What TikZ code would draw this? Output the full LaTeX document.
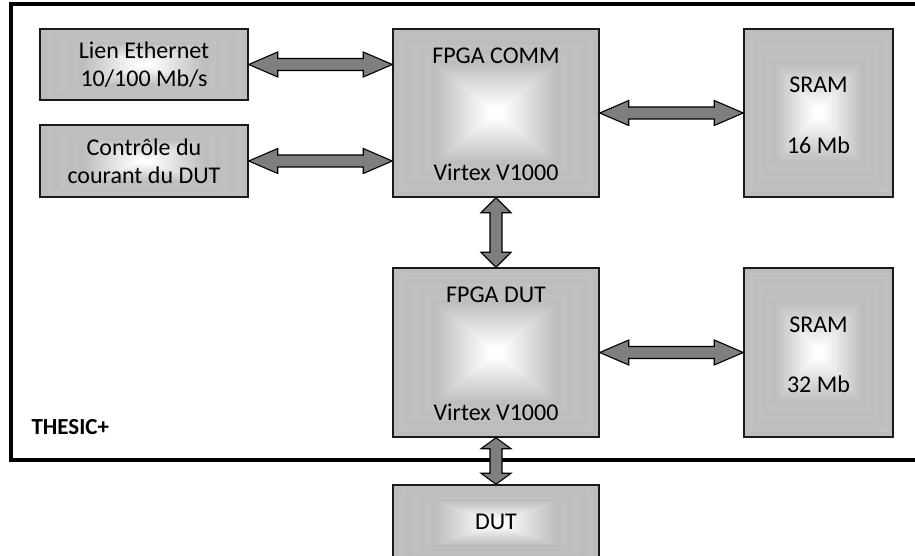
\documentclass[tikz,border=0pt]{standalone}
\usepackage{fontspec}
\setmainfont{Carlito}
\usetikzlibrary{calc}
\definecolor{arrgray}{HTML}{7F7F7F}
\definecolor{boxline}{HTML}{1A1A1A}
\tikzset{
  grad/.style={path picture={
    \foreach \k in {0,...,47}{
      \pgfmathsetmacro\v{min(0.74+0.012*mod(floor(\k/3),2)*(\k<20)+0.26*min(max(\k-19,0)/26,1),1)}
      \definecolor{tmpc}{gray}{\v}
      \fill[tmpc] ($(path picture bounding box.south west)!\k/96!(path picture bounding box.north east)$) rectangle ($(path picture bounding box.north east)!\k/96!(path picture bounding box.south west)$);
    }}},
  box/.style={draw=boxline, line width=1.5pt, grad, align=center, inner sep=0pt},
  arr/.style={draw=black, line width=1.1pt, fill=arrgray, line join=miter},
  frame/.style={draw=black, line width=3.5pt},
  txt/.style={align=center}
}
\newcommand\harr[2]{\path[arr] let \p1=(#1), \p2=(#2) in
  (\x1,\y1) -- (\x1+29pt,\y1+12.5pt) -- (\x1+29pt,\y1+6pt) -- (\x2-29pt,\y1+6pt) -- (\x2-29pt,\y1+12.5pt) -- (\x2,\y1)
  -- (\x2-29pt,\y1-12.5pt) -- (\x2-29pt,\y1-6pt) -- (\x1+29pt,\y1-6pt) -- (\x1+29pt,\y1-12.5pt) -- cycle;}
\newcommand\varr[3][14]{\path[arr] let \p1=(#2), \p2=(#3) in
  (\x1,\y1) -- (\x1+15pt,\y1-#1pt) -- (\x1+6pt,\y1-#1pt) -- (\x1+6pt,\y2+#1pt) -- (\x1+15pt,\y2+#1pt) -- (\x1,\y2)
  -- (\x1-15pt,\y2+#1pt) -- (\x1-6pt,\y2+#1pt) -- (\x1-6pt,\y1-#1pt) -- (\x1-15pt,\y1-#1pt) -- cycle;}
\begin{document}
\begin{tikzpicture}[x=1pt,y=-1pt,font=\fontsize{24}{28}\selectfont]
\useasboundingbox (0,0) rectangle (915,556);
\clip (0,0) rectangle (915,556);
\fill[white] (0,0) rectangle (915,556);
% frame
\draw[frame] (920,4) -- (11,4) -- (11,460) -- (920,460);
\node[font=\fontsize{23}{28}\selectfont\bfseries, anchor=west] (lbl) at (28,427) {THESIC+};
% boxes
\node[box, minimum width=208pt, minimum height=71pt] (eth) at (144,64.5) {Lien Ethernet\\10/100 Mb/s};
\node[box, minimum width=208pt, minimum height=72pt] (ctl) at (144,161) {Contrôle du\\courant du DUT};
\node[box, minimum width=206pt, minimum height=168pt] (comm) at (496,113) {};
\node[box, minimum width=149pt, minimum height=168pt] (sram1) at (818.5,113) {};
\node[box, minimum width=206pt, minimum height=169pt] (fdut) at (496,352.5) {};
\node[box, minimum width=149pt, minimum height=169pt] (sram2) at (818.5,352.5) {};
\node[box, minimum width=206pt, minimum height=76pt] (dut) at (496,523) {};
% texts
\node[txt] (commT) at ($(comm.north)+(0,28)$) {FPGA COMM};
\node[txt] (commV) at ($(comm.south)+(0,-25)$) {Virtex V1000};
\node[txt] (fdutT) at ($(fdut.north)+(0,28)$) {FPGA DUT};
\node[txt] (fdutV) at ($(fdut.south)+(0,-25)$) {Virtex V1000};
\node[txt] (s1a) at ($(sram1.center)+(0,-28)$) {SRAM};
\node[txt] (s1b) at ($(sram1.center)+(0,32)$) {16 Mb};
\node[txt] (s2a) at ($(sram2.center)+(0,-28)$) {SRAM};
\node[txt] (s2b) at ($(sram2.center)+(0,32)$) {32 Mb};
\node[txt] (dutT) at (496,522) {DUT};
% arrows
\harr{eth.east}{comm.west |- eth.east}
\harr{ctl.east}{comm.west |- ctl.east}
\harr{comm.east}{sram1.west}
\harr{fdut.east}{sram2.west}
\varr[15]{comm.south}{fdut.north}
\varr[11]{fdut.south}{dut.north}
\end{tikzpicture}
\end{document}
